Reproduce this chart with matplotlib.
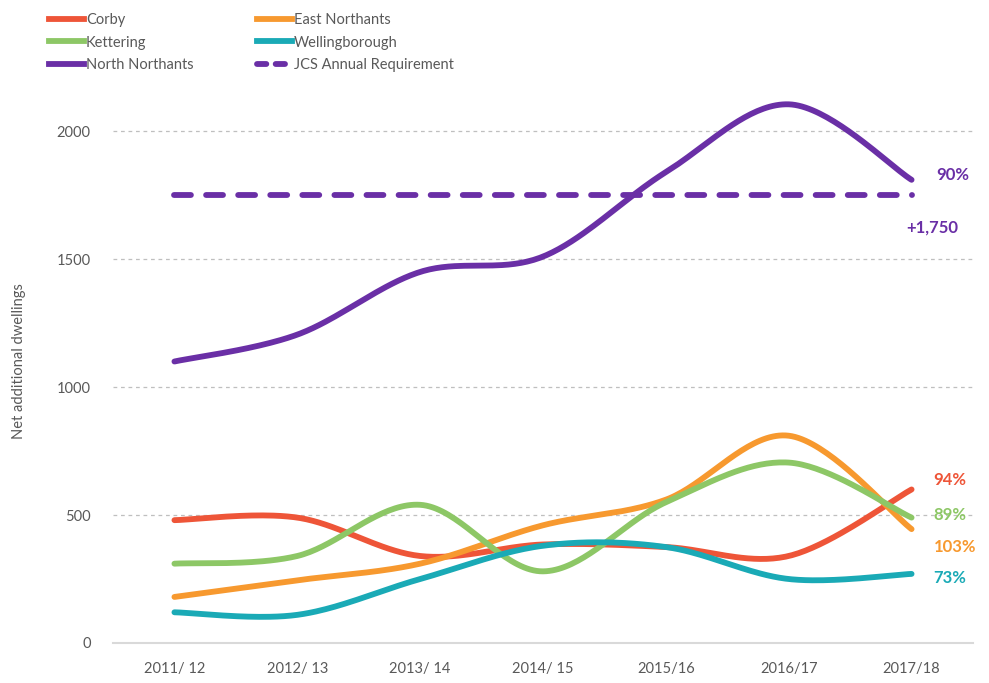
import numpy as np
import matplotlib.pyplot as plt
from matplotlib.lines import Line2D

plt.rcParams['font.family'] = ['Lato', 'DejaVu Sans']

years = ['2011/ 12', '2012/ 13', '2013/ 14', '2014/ 15', '2015/16', '2016/17', '2017/18']
corby = [480, 490, 340, 385, 375, 340, 600]
east_northants = [180, 245, 310, 460, 560, 810, 445]
kettering = [310, 340, 540, 280, 550, 705, 490]
wellingborough = [120, 110, 250, 380, 375, 250, 270]
north_northants = [1100, 1205, 1450, 1510, 1840, 2105, 1810]
jcs_requirement = 1750

end_labels = {'corby': '94%', 'kettering': '89%', 'east': '103%', 'well': '73%', 'north': '90%'}

c_corby = '#EE5538'
c_east = '#F7992F'
c_kett = '#8DC766'
c_well = '#1AAAB6'
c_north = '#6A2FA6'
grey_txt = '#595959'


def smooth(xs, ys, n=40):
    # Catmull-Rom bezier through every point, like spreadsheet "smoothed line"
    xs = np.asarray(xs, float)
    ys = np.asarray(ys, float)
    px = np.concatenate([[xs[0]], xs, [xs[-1]]])
    py = np.concatenate([[ys[0]], ys, [ys[-1]]])
    out_x, out_y = [], []
    t = np.linspace(0, 1, n)
    for i in range(1, len(px) - 2):
        p0 = np.array([px[i], py[i]])
        p3 = np.array([px[i + 1], py[i + 1]])
        c1 = p0 + (np.array([px[i + 1], py[i + 1]]) - np.array([px[i - 1], py[i - 1]])) / 6
        c2 = p3 - (np.array([px[i + 2], py[i + 2]]) - np.array([px[i], py[i]])) / 6
        b = ((1 - t) ** 3)[:, None] * p0 + (3 * (1 - t) ** 2 * t)[:, None] * c1 \
            + (3 * (1 - t) * t ** 2)[:, None] * c2 + (t ** 3)[:, None] * p3
        out_x.extend(b[:, 0])
        out_y.extend(b[:, 1])
    return np.array(out_x), np.array(out_y)


fig = plt.figure(figsize=(9.89, 6.83), dpi=100)
ax = fig.add_axes([113 / 989, 40 / 683, 860 / 989, 563 / 683])

x = np.arange(len(years))
lw = 4.2
for vals, col in [(corby, c_corby), (east_northants, c_east), (kettering, c_kett),
                  (wellingborough, c_well)]:
    sx, sy = smooth(x, vals)
    ax.plot(sx, sy, color=col, lw=lw, solid_capstyle='round')

ax.plot([x[0], x[-1]], [jcs_requirement] * 2, color=c_north, lw=lw,
        dashes=(2.9, 2.6), dash_capstyle='round')
sx, sy = smooth(x, north_northants)
ax.plot(sx, sy, color=c_north, lw=lw, solid_capstyle='round')

ax.set_xlim(-0.5, 6.5)
ax.set_ylim(0, 2200)
ax.set_yticks([0, 500, 1000, 1500, 2000])
ax.set_xticks(x)
ax.set_xticklabels(years)
ax.tick_params(length=0, labelsize=10.5, colors=grey_txt, pad=14)
ax.tick_params(axis='y', pad=16)
for s in ['top', 'right', 'left']:
    ax.spines[s].set_visible(False)
ax.spines['bottom'].set_color('#D9D9D9')
ax.spines['bottom'].set_linewidth(1.5)
for yv in [500, 1000, 1500, 2000]:
    ax.axhline(yv, color='#BFBFBF', lw=0.9, dashes=(3, 3), zorder=0)

ax.set_ylabel('Net additional dwellings', color=grey_txt, fontsize=10.5, labelpad=22)

# end-of-series percentages
lx = 6.18
ax.text(lx, corby[-1] + 35, end_labels['corby'], color=c_corby, fontsize=12, fontweight='bold', va='center')
ax.text(lx, 505 - 5, end_labels['kettering'], color=c_kett, fontsize=12, fontweight='bold', va='center')
ax.text(lx, 380 - 5, end_labels['east'], color=c_east, fontsize=12, fontweight='bold', va='center')
ax.text(lx, wellingborough[-1] - 15, end_labels['well'], color=c_well, fontsize=12, fontweight='bold', va='center')
ax.text(6.2, north_northants[-1] + 20, end_labels['north'], color=c_north, fontsize=12,
        fontweight='bold', va='center')
ax.text(5.96, jcs_requirement - 125, '+{:,}'.format(jcs_requirement), color=c_north, fontsize=12,
        fontweight='bold', va='center')

# legend in two columns
h_left = [Line2D([], [], color=c_corby, lw=lw), Line2D([], [], color=c_kett, lw=lw),
          Line2D([], [], color=c_north, lw=lw)]
h_right = [Line2D([], [], color=c_east, lw=lw), Line2D([], [], color=c_well, lw=lw),
           Line2D([], [], color=c_north, lw=lw, dashes=(1.6, 1.6), dash_capstyle='round')]
kw = dict(frameon=False, fontsize=10.5, handlelength=2.4, handletextpad=0.15,
          labelspacing=0.6, labelcolor=grey_txt, borderaxespad=0)
fig.legend(h_left, ['Corby', 'Kettering', 'North Northants'], loc='upper left',
           bbox_to_anchor=(43 / 989, 1 - 7 / 683), **kw)
fig.legend(h_right, ['East Northants', 'Wellingborough', 'JCS Annual Requirement'], loc='upper left',
           bbox_to_anchor=(251 / 989, 1 - 7 / 683), **kw)

fig.savefig('out.png', dpi=100)
